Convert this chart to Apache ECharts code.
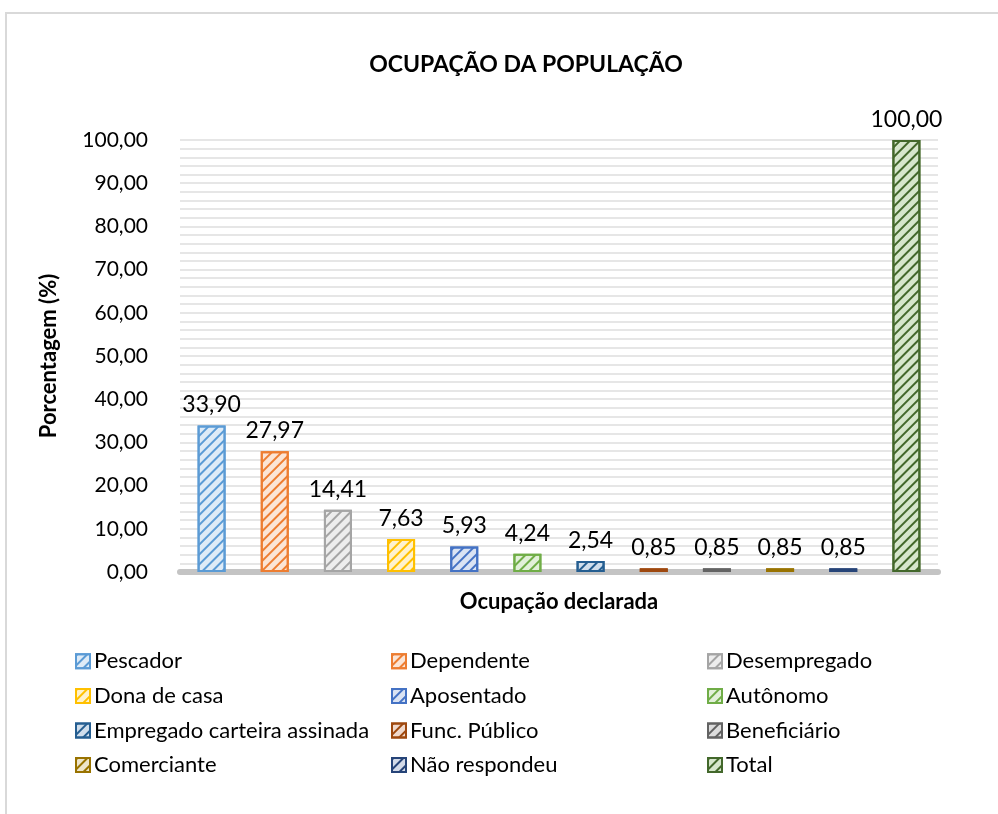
<!DOCTYPE html>
<html>
<head>
<meta charset="utf-8">
<script src="https://cdn.jsdelivr.net/npm/echarts@6/dist/echarts.min.js"></script>
<style>
  html, body { margin: 0; padding: 0; background: #fff; }
  .frame { position: absolute; left: 5px; top: 12px; width: 1100px; height: 900px; border: 2px solid #d9d9d9; box-sizing: border-box; }
  .chart-container { position: absolute; left: 0; top: 0; width: 998px; height: 814px; }
</style>
</head>
<body>
<div class="frame"></div>
<div class="chart-container"></div>
<script>
const categories = ['Pescador', 'Dependente', 'Desempregado', 'Dona de casa', 'Aposentado', 'Autônomo',
  'Empregado carteira assinada', 'Func. Público', 'Beneficiário', 'Comerciante', 'Não respondeu', 'Total'];
const values = [33.90, 27.97, 14.41, 7.63, 5.93, 4.24, 2.54, 0.85, 0.85, 0.85, 0.85, 100.00];
const mainColors = ['#5B9BD5', '#ED7D31', '#A5A5A5', '#FFC000', '#4472C4', '#70AD47',
  '#255E91', '#9E480E', '#636363', '#997300', '#264478', '#43682B'];
const lightColors = ['#DEEBF7', '#FBE5D6', '#EDEDED', '#FFF2CC', '#DAE3F3', '#E2F0D9',
  '#D0DEEC', '#F0D9CC', '#DDDDDD', '#EEE5CC', '#D3DAE8', '#D6E6CC'];

const fmt = (v) => Number(v).toFixed(2).replace('.', ',');
const font = 'Lato, "Open Sans", sans-serif';

const series = categories.map((name, ind) => ({
  name,
  type: 'bar',
  stack: 'one',
  barWidth: 28,
  data: categories.map((c, j) => (j === ind ? values[ind] : null)),
  itemStyle: {
    color: lightColors[ind],
    borderColor: mainColors[ind],
    borderWidth: 2,
    decal: {
      symbol: 'rect',
      symbolSize: 1,
      color: mainColors[ind],
      dashArrayX: [[1, 0]],
      dashArrayY: [1.5, 4.5],
      rotation: -Math.PI / 4,
    },
  },
  label: {
    show: true,
    position: 'top',
    distance: 9,
    formatter: (p) => fmt(p.value),
    fontFamily: font,
    fontSize: 23,
    color: '#000',
  },
}));

const myChart = echarts.init(document.querySelector('.chart-container'));
myChart.setOption({
  animation: false,
  title: {
    text: 'OCUPAÇÃO DA POPULAÇÃO',
    left: 521,
    textAlign: 'center',
    top: 48,
    textStyle: { fontFamily: font, fontSize: 23, fontWeight: 'bold', color: '#000' },
  },
  grid: { left: 180, right: 60, top: 140, bottom: 242 },
  legend: {
    left: 70,
    top: 639,
    width: 960,
    itemWidth: 14,
    itemHeight: 14,
    itemGap: 0,
    icon: 'rect',
    textStyle: { fontFamily: font, fontSize: 22, color: '#000', width: 297, lineHeight: 34.6, padding: [0, 0, 0, -1] },
    data: categories,
  },
  xAxis: {
    type: 'category',
    data: categories,
    axisLabel: { show: false },
    axisTick: { show: false },
    axisLine: { show: true, lineStyle: { color: '#c4c4c4', width: 6 } },
    name: 'Ocupação declarada',
    nameLocation: 'middle',
    nameGap: 19,
    nameTextStyle: { fontFamily: font, fontSize: 22, fontWeight: 'bold', color: '#000' },
  },
  yAxis: {
    type: 'value',
    min: 0,
    max: 100,
    interval: 10,
    axisLine: { show: false },
    axisTick: { show: false },
    axisLabel: { formatter: fmt, fontFamily: font, fontSize: 21, color: '#000', margin: 32 },
    splitLine: { show: true, lineStyle: { color: '#e6e6e6', width: 2 } },
    minorTick: { show: false, splitNumber: 5 },
    minorSplitLine: { show: true, lineStyle: { color: '#e6e6e6', width: 2 } },
    name: 'Porcentagem (%)',
    nameLocation: 'middle',
    nameGap: 120,
    nameTextStyle: { fontFamily: font, fontSize: 22, fontWeight: 'bold', color: '#000' },
  },
  series,
});
</script>
</body>
</html>
